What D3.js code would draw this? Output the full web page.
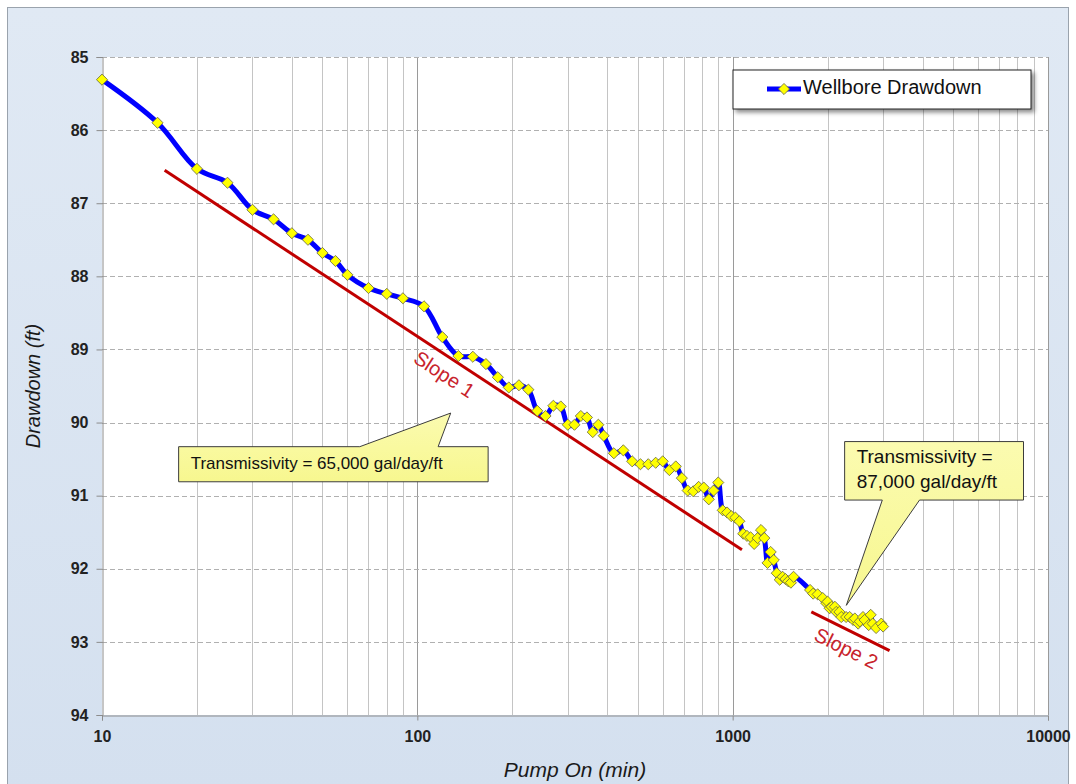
<!DOCTYPE html>
<html>
<head>
<meta charset="utf-8">
<script src="https://cdn.jsdelivr.net/npm/d3@7"></script>
<style>
  html, body { margin: 0; padding: 0; background: #ffffff; }
  svg { display: block; }
</style>
</head>
<body>
<svg id="chart" width="1076" height="784"></svg>
<script>
// ---------------- DATA ----------------
const seriesName = "Wellbore Drawdown";
const pumpTime = [10,15,20,25,30,35,40,45,50,55,60,70,80,90,105,120,135,150,165,180,195,210,225,240,255,270,285,300,315,330,345,360,375,390,420,450,480,510,540,570,600,630,660,690,720,750,780,810,840,870,900,930,960,990,1020,1050,1080,1110,1140,1170,1200,1230,1260,1290,1320,1350,1380,1410,1440,1470,1500,1530,1560,1760,1800,1860,1930,1980,2000,2030,2060,2110,2130,2180,2210,2290,2350,2410,2440,2500,2530,2590,2620,2700,2740,2780,2850,2960,3000];
const drawdown = [85.31,85.90,86.53,86.72,87.09,87.22,87.41,87.50,87.68,87.79,87.98,88.16,88.24,88.30,88.41,88.83,89.09,89.10,89.20,89.38,89.52,89.49,89.55,89.84,89.91,89.77,89.78,90.03,90.03,89.91,89.93,90.13,90.03,90.18,90.42,90.38,90.53,90.57,90.57,90.55,90.53,90.65,90.60,90.76,90.93,90.94,90.88,90.89,91.05,90.93,90.82,91.20,91.23,91.28,91.30,91.35,91.52,91.55,91.57,91.66,91.58,91.47,91.58,91.92,91.77,91.88,92.06,92.15,92.11,92.14,92.17,92.19,92.11,92.29,92.34,92.35,92.40,92.47,92.45,92.54,92.52,92.52,92.59,92.59,92.66,92.66,92.66,92.70,92.68,92.75,92.72,92.66,92.70,92.77,92.63,92.75,92.81,92.75,92.79];

const xTickValues = [10, 100, 1000, 10000];
const xTickLabels = ["10", "100", "1000", "10000"];
const yTickValues = [85, 86, 87, 88, 89, 90, 91, 92, 93, 94];
const yTickLabels = ["85", "86", "87", "88", "89", "90", "91", "92", "93", "94"];

const xTitle = "Pump On (min)";
const yTitle = "Drawdown (ft)";

// slope lines: [time, drawdown] endpoints
const slope1 = [[15.8, 86.55], [1070, 91.74]];
const slope2 = [[1776, 92.59], [3145, 93.12]];
const slopeLabels = ["Slope 1", "Slope 2"];
const slopeLabelAt = [[121, 89.36], [2280, 93.11]];

// callouts (data space): box [t0,t1,d0,d1], tip [t,d], base [tA,tB]
const callout1Text = ["Transmissivity = 65,000 gal/day/ft"];
const callout1Box = [17.5, 167.7, 90.33, 90.81];
const callout1Tip = [127.6, 89.87];
const callout1Base = [65.7, 116.4];
const callout2Text = ["Transmissivity =", "87,000 gal/day/ft"];
const callout2Box = [2265, 8362, 90.26, 91.06];
const callout2Tip = [2293, 92.50];
const callout2Base = [2982, 3914];

// ---------------- CHART ----------------
const W = 1076, H = 784;
const svg = d3.select("#chart");
const defs = svg.append("defs");

const bg = defs.append("linearGradient").attr("id", "bg").attr("x1", 0).attr("y1", 0).attr("x2", 0).attr("y2", 1);
bg.append("stop").attr("offset", "0%").attr("stop-color", "#e0e9f4");
bg.append("stop").attr("offset", "100%").attr("stop-color", "#d4e0ef");

const cg = defs.append("linearGradient").attr("id", "callout").attr("x1", 0).attr("y1", 0).attr("x2", 0).attr("y2", 1);
cg.append("stop").attr("offset", "0%").attr("stop-color", "#fbfbb0");
cg.append("stop").attr("offset", "100%").attr("stop-color", "#f7f78f");

const sh = defs.append("filter").attr("id", "shadow").attr("x", "-10%").attr("y", "-20%").attr("width", "130%").attr("height", "160%");
sh.append("feDropShadow").attr("dx", 3).attr("dy", 3).attr("stdDeviation", 2).attr("flood-color", "#000").attr("flood-opacity", 0.45);

svg.append("rect").attr("x", 0).attr("y", 0).attr("width", W).attr("height", H).attr("fill", "#ffffff");
svg.append("rect").attr("x", 7.5).attr("y", 7.5).attr("width", W - 15).attr("height", H).attr("fill", "url(#bg)").attr("stroke", "#9aa3ad").attr("stroke-width", 1);

const pL = 102, pR = 1048, pT = 57, pB = 715;
const x = d3.scaleLog().domain([10, 10000]).range([pL, pR]);
const y = d3.scaleLinear().domain([85, 94]).range([pT, pB]);

// plot area
svg.append("rect").attr("x", pL).attr("y", pT).attr("width", pR - pL).attr("height", pB - pT).attr("fill", "#ffffff");

// vertical gridlines
const minorTicks = [];
[10, 100, 1000].forEach(dec => { for (let k = 2; k <= 9; k++) minorTicks.push(dec * k); });
const grid = svg.append("g");
grid.selectAll("line.vmin").data(minorTicks).enter().append("line")
  .attr("x1", d => Math.round(x(d)) + 0.5).attr("x2", d => Math.round(x(d)) + 0.5)
  .attr("y1", pT).attr("y2", pB)
  .attr("stroke", "#c4c4c4").attr("stroke-width", 1);
grid.selectAll("line.vmaj").data([100, 1000, 10000]).enter().append("line")
  .attr("x1", d => Math.round(x(d)) + 0.5).attr("x2", d => Math.round(x(d)) + 0.5)
  .attr("y1", pT).attr("y2", pB)
  .attr("stroke", "#9a9a9a").attr("stroke-width", 1);
// horizontal dashed gridlines
grid.selectAll("line.h").data(yTickValues.slice(0, -1)).enter().append("line")
  .attr("x1", pL).attr("x2", pR)
  .attr("y1", d => Math.round(y(d)) + 0.5).attr("y2", d => Math.round(y(d)) + 0.5)
  .attr("stroke", "#b0b0b0").attr("stroke-width", 1).attr("stroke-dasharray", "5,3");

// axes
const axisFont = "'Liberation Sans Narrow', 'Arial Narrow', 'Liberation Sans', Arial, sans-serif";
const yAxis = d3.axisLeft(y).tickValues(yTickValues).tickFormat((d, i) => yTickLabels[i]).tickSize(6).tickPadding(8);
const gy = svg.append("g").attr("transform", `translate(${pL + 0.5},0)`).call(yAxis);
gy.select(".domain").attr("stroke", "#8c8c8c");
gy.selectAll(".tick line").attr("stroke", "#8c8c8c");
gy.selectAll(".tick text").attr("font-family", axisFont).attr("font-weight", "bold").attr("font-size", 16).attr("fill", "#222");

const xAxis = d3.axisBottom(x).tickValues(xTickValues).tickFormat((d, i) => xTickLabels[i]).tickSize(5).tickPadding(10);
const gx = svg.append("g").attr("transform", `translate(0,${pB + 0.5})`).call(xAxis);
gx.select(".domain").attr("stroke", "#8c8c8c");
gx.selectAll(".tick line").attr("stroke", "#8c8c8c");
gx.selectAll(".tick text").attr("font-family", axisFont).attr("font-weight", "bold").attr("font-size", 16).attr("fill", "#222");

// axis titles
svg.append("text").attr("x", (pL + pR) / 2).attr("y", 777).attr("text-anchor", "middle")
  .attr("font-family", "'Liberation Sans', Arial, sans-serif").attr("font-style", "italic").attr("font-size", 21).attr("fill", "#1a1a1a").text(xTitle);
svg.append("text").attr("transform", `translate(40,${(pT + pB) / 2}) rotate(-90)`).attr("text-anchor", "middle")
  .attr("font-family", "'Liberation Sans', Arial, sans-serif").attr("font-style", "italic").attr("font-size", 20).attr("fill", "#1a1a1a").text(yTitle);

// slope lines
const red = "#c00000";
[slope1, slope2].forEach(s => {
  svg.append("line").attr("x1", x(s[0][0])).attr("y1", y(s[0][1])).attr("x2", x(s[1][0])).attr("y2", y(s[1][1]))
    .attr("stroke", red).attr("stroke-width", 3);
});
[slope1, slope2].forEach((s, i) => {
  const ang = Math.atan2(y(s[1][1]) - y(s[0][1]), x(s[1][0]) - x(s[0][0])) * 180 / Math.PI;
  const p = slopeLabelAt[i];
  svg.append("text").attr("transform", `translate(${x(p[0])},${y(p[1])}) rotate(${ang})`)
    .attr("text-anchor", "middle").attr("dominant-baseline", "middle")
    .attr("font-family", "'Liberation Sans', Arial, sans-serif").attr("font-size", 20).attr("fill", "#c8232c").text(slopeLabels[i]);
});

// data line
const pts = pumpTime.map((t, i) => [t, drawdown[i]]);
const line = d3.line().x(d => x(d[0])).y(d => y(d[1])).curve(d3.curveCatmullRom.alpha(0.5));
svg.append("path").datum(pts).attr("d", line).attr("fill", "none").attr("stroke", "#0000ff").attr("stroke-width", 5).attr("stroke-linejoin", "round");
const sym = d3.symbol().type(d3.symbolSquare).size(62);
svg.append("g").selectAll("path").data(pts).enter().append("path")
  .attr("d", sym).attr("transform", d => `translate(${x(d[0])},${y(d[1])}) rotate(45)`)
  .attr("fill", "#ffff00").attr("stroke", "#6b6b45").attr("stroke-width", 0.8);

// callouts
function callout(box, tip, base, lines, lineGap, fs) {
  const x0 = x(box[0]), x1 = x(box[1]), y0 = y(box[2]), y1 = y(box[3]);
  const tx = x(tip[0]), ty = y(tip[1]);
  const bA = x(base[0]), bB = x(base[1]);
  let path;
  if (ty < y0) {
    path = `M${x0},${y0} L${bA},${y0} L${tx},${ty} L${bB},${y0} L${x1},${y0} L${x1},${y1} L${x0},${y1} Z`;
  } else {
    path = `M${x0},${y0} L${x1},${y0} L${x1},${y1} L${bB},${y1} L${tx},${ty} L${bA},${y1} L${x0},${y1} Z`;
  }
  svg.append("path").attr("d", path).attr("fill", "url(#callout)").attr("stroke", "#3c3c3c").attr("stroke-width", 1);
  const n = lines.length;
  const cy = (y0 + y1) / 2;
  lines.forEach((s, i) => {
    svg.append("text").attr("x", x0 + 12).attr("y", cy + (i - (n - 1) / 2) * lineGap)
      .attr("dominant-baseline", "middle")
      .attr("font-family", "'Liberation Sans', Arial, sans-serif").attr("font-size", fs).attr("fill", "#111").text(s);
  });
}
callout(callout1Box, callout1Tip, callout1Base, callout1Text, 20, 17);
callout(callout2Box, callout2Tip, callout2Base, callout2Text, 25, 19);

// legend
const lg = svg.append("g");
lg.append("rect").attr("x", 733).attr("y", 70).attr("width", 298).attr("height", 39)
  .attr("fill", "#ffffff").attr("stroke", "#222").attr("stroke-width", 1).attr("filter", "url(#shadow)");
lg.append("line").attr("x1", 767).attr("x2", 801).attr("y1", 89).attr("y2", 89).attr("stroke", "#0000ff").attr("stroke-width", 5);
lg.append("path").attr("d", sym).attr("transform", "translate(784,89) rotate(45)").attr("fill", "#ffff00").attr("stroke", "#6b6b45").attr("stroke-width", 0.8);
lg.append("text").attr("x", 803).attr("y", 89).attr("dominant-baseline", "middle")
  .attr("font-family", "'Liberation Sans', Arial, sans-serif").attr("font-size", 20).attr("fill", "#111").text(seriesName);
</script>
</body>
</html>
